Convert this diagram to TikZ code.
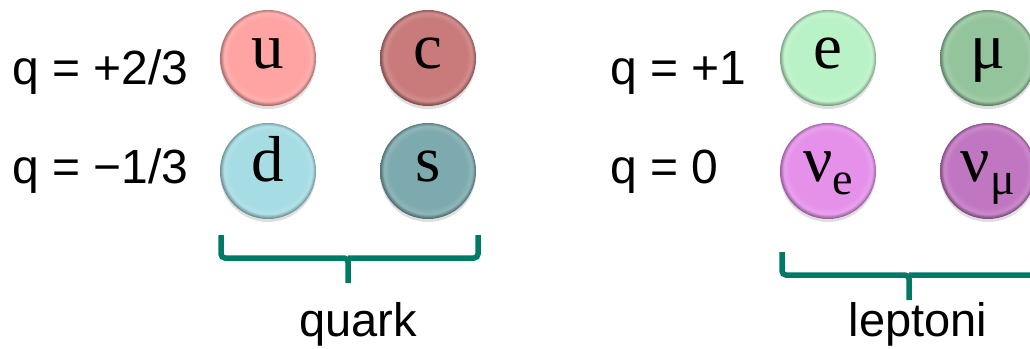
\documentclass[tikz,border=0pt]{standalone}
\usepackage{fontspec}
\setmainfont{Liberation Serif}
\setsansfont{Liberation Sans}
\usetikzlibrary{shadows}

\definecolor{bracegreen}{RGB}{0,122,100}
\definecolor{upcol}{HTML}{FFA3A3}
\definecolor{charmcol}{HTML}{C97A7A}
\definecolor{downcol}{HTML}{A6DCE4}
\definecolor{strangecol}{HTML}{7DAAAE}
\definecolor{eleccol}{HTML}{B9F2C6}
\definecolor{muoncol}{HTML}{94C49C}
\definecolor{nuecol}{HTML}{E591EA}
\definecolor{numucol}{HTML}{C176C1}

\colorlet{beadc}{gray}
\pgfdeclareradialshading[beadc]{bead}{\pgfpoint{0bp}{1bp}}{%
  color(0bp)=(beadc); color(20bp)=(beadc); color(23bp)=(beadc!85!white);
  color(24.3bp)=(beadc!80!black); color(25bp)=(beadc!65!black); color(50bp)=(beadc!65!black)}

\tikzset{
  bead/.style={circle, minimum size=96pt, inner sep=0pt, text height=20pt, text depth=0pt,
    /utils/exec={\colorlet{beadc}{#1}}, shading=bead,
    drop shadow={opacity=.25, shadow xshift=0pt, shadow yshift=-3pt},
    font=\fontsize{65}{65}\selectfont},
  charge/.style={font=\sffamily\fontsize{48}{48}\selectfont, anchor=base west, inner sep=0pt},
  family/.style={font=\sffamily\fontsize{47}{47}\selectfont, anchor=base, inner sep=0pt},
  brace/.style={draw=bracegreen, line width=5.5pt, rounded corners=4pt}
}

\begin{document}
\begin{tikzpicture}[x=1pt,y=-1pt]
    \useasboundingbox (0,0) rectangle (1030,348);
    % charges
    \node[charge] (qup)   at (12,84)  {q = +2/3};
    \node[charge] (qdown) at (12,183) {q = −1/3};
    \node[charge] (qlep)  at (610,84) {q = +1};
    \node[charge] (qnu)   at (610,183) {q = 0};
    % particles
    \foreach \nm/\px/\py/\col/\txt in {u/268/58/upcol/u, c/428/58/charmcol/c,
        d/268/171/downcol/d, s/428/171/strangecol/s,
        e/828/58/eleccol/e, mu/988/58/muoncol/μ,
        nue/828/171/nuecol/{ν\raisebox{-13pt}{\fontsize{46}{46}\selectfont e}},
        numu/988/171/numucol/{ν\raisebox{-13pt}{\fontsize{46}{46}\selectfont μ}}} {
        \node[bead=\col] (\nm) at (\px,\py) {\txt};
    }
    % brackets
    \draw[brace] (221,235) |- (348,258) -- (348,283);
    \draw[brace] (478,235) |- (348,258);
    \draw[brace] (782,252) |- (909,275) -- (909,300);
    \draw[brace] (1036,252) |- (909,275);
    \node[family] (quark)   at (358,336) {quark};
    \node[family] (leptoni) at (918,336) {leptoni};
\end{tikzpicture}
\end{document}
